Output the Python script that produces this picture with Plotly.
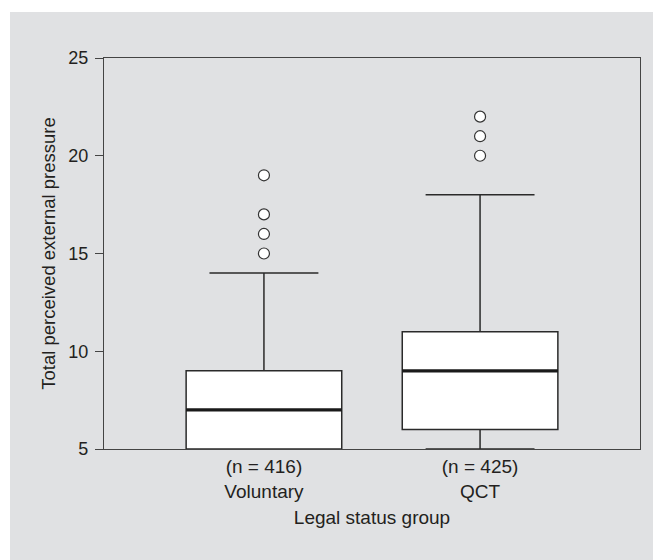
import plotly.graph_objects as go

groups = ["Voluntary", "QCT"]
n_labels = ["(n = 416)", "(n = 425)"]
q1 = [5, 6]
median = [7, 9]
q3 = [9, 11]
lower = [5, 5]
upper = [14, 18]
outliers = [[15, 16, 17, 19], [20, 21, 22]]
y_ticks = [5, 10, 15, 20, 25]

pos = list(range(len(groups)))
box_w = 0.72
grey = "#e0e1e3"
ink = "#231f20"

fig = go.Figure()
fig.add_trace(go.Box(
    x=pos, q1=q1, median=median, q3=q3, lowerfence=lower, upperfence=upper,
    width=box_w, whiskerwidth=0.7, fillcolor="white",
    line=dict(color="#2a2a2a", width=1.5), boxpoints=False, showlegend=False,
    hoverinfo="skip",
))
for i, vals in enumerate(outliers):
    fig.add_trace(go.Scatter(
        x=[pos[i]] * len(vals), y=vals, mode="markers",
        marker=dict(symbol="circle", size=11, color="white",
                    line=dict(color="#333333", width=1.2)),
        showlegend=False, hoverinfo="skip",
    ))

# plot area in figure px: left 96, right 632, top 50, bottom 441
shapes = [dict(type="rect", xref="paper", yref="paper",
               x0=(2 - 96) / 536, x1=(661 - 96) / 536,
               y0=(441 - 560) / 391, y1=(441 - 4) / 391,
               fillcolor=grey, line=dict(width=0), layer="below")]
for i, m in enumerate(median):
    shapes.append(dict(type="line", xref="x", yref="y",
                       x0=pos[i] - box_w / 2, x1=pos[i] + box_w / 2, y0=m, y1=m,
                       line=dict(color="#1a1a1a", width=3.2), layer="above"))

fig.update_layout(
    width=661, height=560,
    margin=dict(l=96, r=29, t=50, b=119),
    paper_bgcolor="white", plot_bgcolor=grey,
    font=dict(family="Liberation Sans, Arial, sans-serif", color=ink, size=18),
    shapes=shapes,
    xaxis=dict(
        range=[-0.74, 1.74], tickvals=pos,
        ticktext=[f"{n}<br>{g}" for n, g in zip(n_labels, groups)],
        ticks="", showgrid=False, zeroline=False,
        showline=True, linecolor="#444444", linewidth=1.3, mirror=True,
        title=dict(text="Legal status group", standoff=10, font=dict(size=19)),
        tickfont=dict(size=19),
    ),
    yaxis=dict(
        range=[5, 25], tickvals=y_ticks, ticks="outside", ticklen=8,
        tickcolor="#444444", showgrid=False, zeroline=False,
        showline=True, linecolor="#444444", linewidth=1.3, mirror=True,
        ticklabelstandoff=3,
        title=dict(text="Total perceived external pressure", standoff=7,
                   font=dict(size=18.5)),
        tickfont=dict(size=18),
    ),
)

fig.write_html("out.html")
